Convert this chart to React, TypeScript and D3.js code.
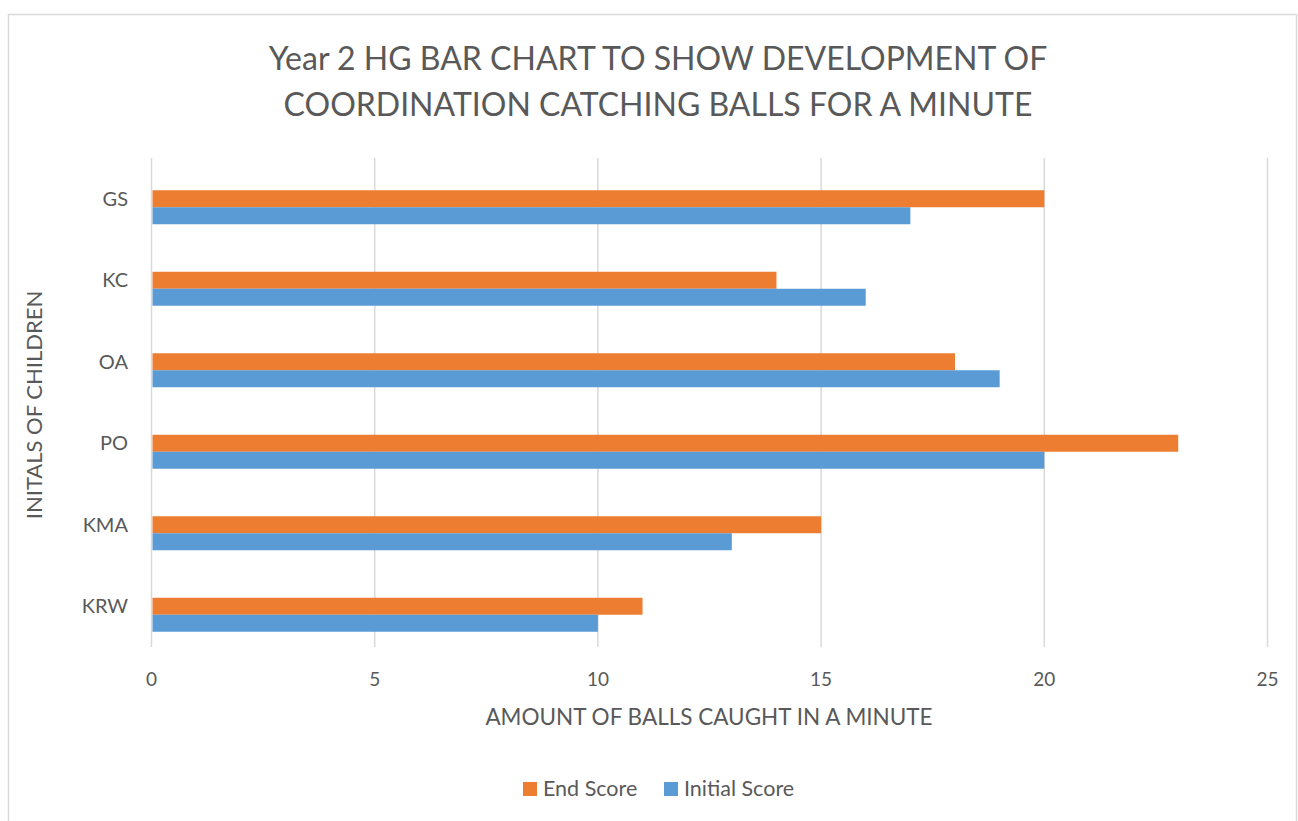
import { useEffect, useRef } from "react";
import * as d3 from "d3";

const children = ["GS", "KC", "OA", "PO", "KMA", "KRW"];
const endScore = [20, 14, 18, 23, 15, 11];
const initialScore = [17, 16, 19, 20, 13, 10];
const xTicks = [0, 5, 10, 15, 20, 25];
const titleLines = [
  "Year 2 HG BAR CHART TO SHOW DEVELOPMENT OF",
  "COORDINATION CATCHING BALLS FOR A MINUTE",
];

const FONT = "Lato, 'Open Sans', sans-serif";
const TEXT = "#595959";

export default function App() {
  const svgRef = useRef<SVGSVGElement>(null);

  useEffect(() => {
    if (!svgRef.current) return;
    const svg = d3.select(svgRef.current);
    svg.selectAll("*").remove();

    const width = 1298;
    const height = 821;
    const plot = { left: 151.5, right: 1267.5, top: 158, bottom: 647 };

    // chart border
    svg.append("rect")
      .attr("x", 8.5).attr("y", 14.5)
      .attr("width", 1288).attr("height", 830)
      .attr("fill", "#fff")
      .attr("stroke", "#d9d9d9")
      .attr("stroke-width", 1.5);

    const x = d3.scaleLinear().domain([0, 25]).range([plot.left, plot.right]);
    const y = d3.scaleBand<string>().domain(children).range([plot.top, plot.bottom]);
    // excel cluster has an empty first slot, so bars sit low in the band
    const inner = d3.scaleBand<string>()
      .domain(["blank", "end", "initial"])
      .range([15.25, y.bandwidth() - 15.25]);

    // gridlines
    svg.append("g")
      .selectAll("line")
      .data(xTicks)
      .join("line")
      .attr("x1", (d) => x(d)).attr("x2", (d) => x(d))
      .attr("y1", plot.top).attr("y2", plot.bottom)
      .attr("stroke", "#d9d9d9")
      .attr("stroke-width", 1.5);

    // bars
    const series = [
      { key: "end", values: endScore, color: "#ED7D31" },
      { key: "initial", values: initialScore, color: "#5B9BD5" },
    ];
    series.forEach((s) => {
      svg.append("g")
        .selectAll("rect")
        .data(children)
        .join("rect")
        .attr("x", x(0) + 1)
        .attr("y", (d) => (y(d) as number) + (inner(s.key) as number))
        .attr("width", (d, i) => x(s.values[i]) - x(0) - 1)
        .attr("height", inner.bandwidth())
        .attr("fill", s.color);
    });

    // x tick labels
    svg.append("g")
      .selectAll("text")
      .data(xTicks)
      .join("text")
      .attr("x", (d) => x(d))
      .attr("y", 686)
      .attr("text-anchor", "middle")
      .attr("font-family", FONT)
      .attr("font-size", 19)
      .attr("fill", TEXT)
      .text((d) => d);

    // category labels
    svg.append("g")
      .selectAll("text")
      .data(children)
      .join("text")
      .attr("x", 128)
      .attr("y", (d) => (y(d) as number) + y.bandwidth() / 2 + 7)
      .attr("text-anchor", "end")
      .attr("font-family", FONT)
      .attr("font-size", 20)
      .attr("fill", TEXT)
      .text((d) => d);

    // title
    svg.append("g")
      .selectAll("text")
      .data(titleLines)
      .join("text")
      .attr("x", 658)
      .attr("y", (d, i) => 70 + i * 46)
      .attr("text-anchor", "middle")
      .attr("font-family", FONT)
      .attr("font-size", 32)
      .attr("fill", TEXT)
      .text((d) => d);

    // axis titles
    svg.append("text")
      .attr("x", 709).attr("y", 725)
      .attr("text-anchor", "middle")
      .attr("font-family", FONT)
      .attr("font-size", 22.5)
      .attr("fill", TEXT)
      .text("AMOUNT OF BALLS CAUGHT IN A MINUTE");

    svg.append("text")
      .attr("transform", "translate(42,405) rotate(-90)")
      .attr("text-anchor", "middle")
      .attr("font-family", FONT)
      .attr("font-size", 22)
      .attr("fill", TEXT)
      .text("INITALS OF CHILDREN");

    // legend
    const legend = [
      { label: "End Score", color: "#ED7D31", x: 523 },
      { label: "Initial Score", color: "#5B9BD5", x: 664 },
    ];
    legend.forEach((l) => {
      svg.append("rect")
        .attr("x", l.x).attr("y", 782)
        .attr("width", 14).attr("height", 14)
        .attr("fill", l.color);
      svg.append("text")
        .attr("x", l.x + 20).attr("y", 796)
        .attr("font-family", FONT)
        .attr("font-size", 21.5)
        .attr("fill", TEXT)
        .text(l.label);
    });

    svg.attr("width", width).attr("height", height);
  }, []);

  return (
    <svg
      ref={svgRef}
      width={1298}
      height={821}
      style={{ position: "absolute", left: 0, top: 0, background: "#fff" }}
    />
  );
}
